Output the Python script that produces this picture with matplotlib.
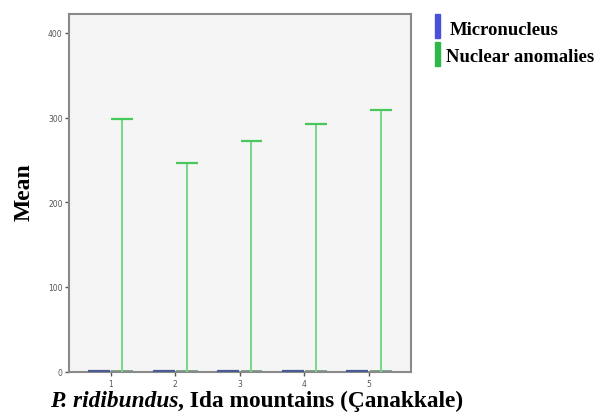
import matplotlib
matplotlib.use('Agg')
import matplotlib.pyplot as plt
from matplotlib.patches import Rectangle

# data
groups = [1, 2, 3, 4, 5]
micronucleus = [0.8, 0.6, 0.7, 1.3, 0.7]
nuclear_anomalies = [298, 247, 272, 292, 309]
yticks = [0, 100, 200, 300, 400]

BLUE = '#4a5a94'
GREEN = '#74d886'
GREEN_CAP = '#48c85c'
SERIF = 'Liberation Serif'

fig = plt.figure(figsize=(5.95, 4.14), dpi=100)
ax = fig.add_axes([0.1168, 0.0998, 0.690 - 0.1168, 0.963 - 0.0998])
ax.set_facecolor('#f5f5f5')

w = 0.34
off = 0.18
for g, mn, na in zip(groups, micronucleus, nuclear_anomalies):
    # micronucleus: bar top close to zero
    ax.hlines(mn, g - off - w / 2, g - off + w / 2, color=BLUE, lw=1.6, zorder=3)
    # nuclear anomalies: stem from zero with cap
    xc = g + off
    ax.vlines(xc, 0, na, color=GREEN, lw=1.4, zorder=3)
    ax.hlines(na, xc - w / 2, xc + w / 2, color=GREEN_CAP, lw=1.6, zorder=3)
    ax.hlines(0.3, xc - w / 2, xc + w / 2, color='#6a9a78', lw=1.2, zorder=2)

ax.set_xlim(0.36, 5.645)
ax.set_ylim(0, 422)
ax.set_xticks(groups)
ax.set_yticks(yticks)
ax.tick_params(labelsize=5.5, labelcolor='#555555', color='#555555',
               length=3, width=1, direction='out', pad=2)
for s in ax.spines.values():
    s.set_color('#8a8a8a')
    s.set_linewidth(1.5)

fig.text(0.040, 0.537, 'Mean', rotation=90, ha='center', va='center',
         fontsize=17, fontweight='bold', family=SERIF)

t1 = fig.text(0.084, 0.004, 'P. ridibundus', fontsize=16.8, fontweight='bold',
              style='italic', family=SERIF, ha='left', va='bottom')
ax.annotate(', Ida mountains (Çanakkale)', xy=(1, 0), xycoords=t1,
            ha='left', va='bottom', fontsize=16.8, fontweight='bold', family=SERIF,
            annotation_clip=False)

# legend on the right
legend_items = [('Micronucleus', '#4a50d8', 0.964, 0.9275, 0.756),
                ('Nuclear anomalies', '#2eb84c', 0.896, 0.862, 0.750)]
for label, col, ytop, ytxt, xtxt in legend_items:
    fig.patches.append(Rectangle((0.731, ytop - 0.058), 0.0084, 0.058, color=col,
                                 transform=fig.transFigure, figure=fig))
    fig.text(xtxt, ytxt, label, ha='left', va='center', fontsize=13.5,
             fontweight='bold', family=SERIF)

fig.savefig('out.png', dpi=100)
